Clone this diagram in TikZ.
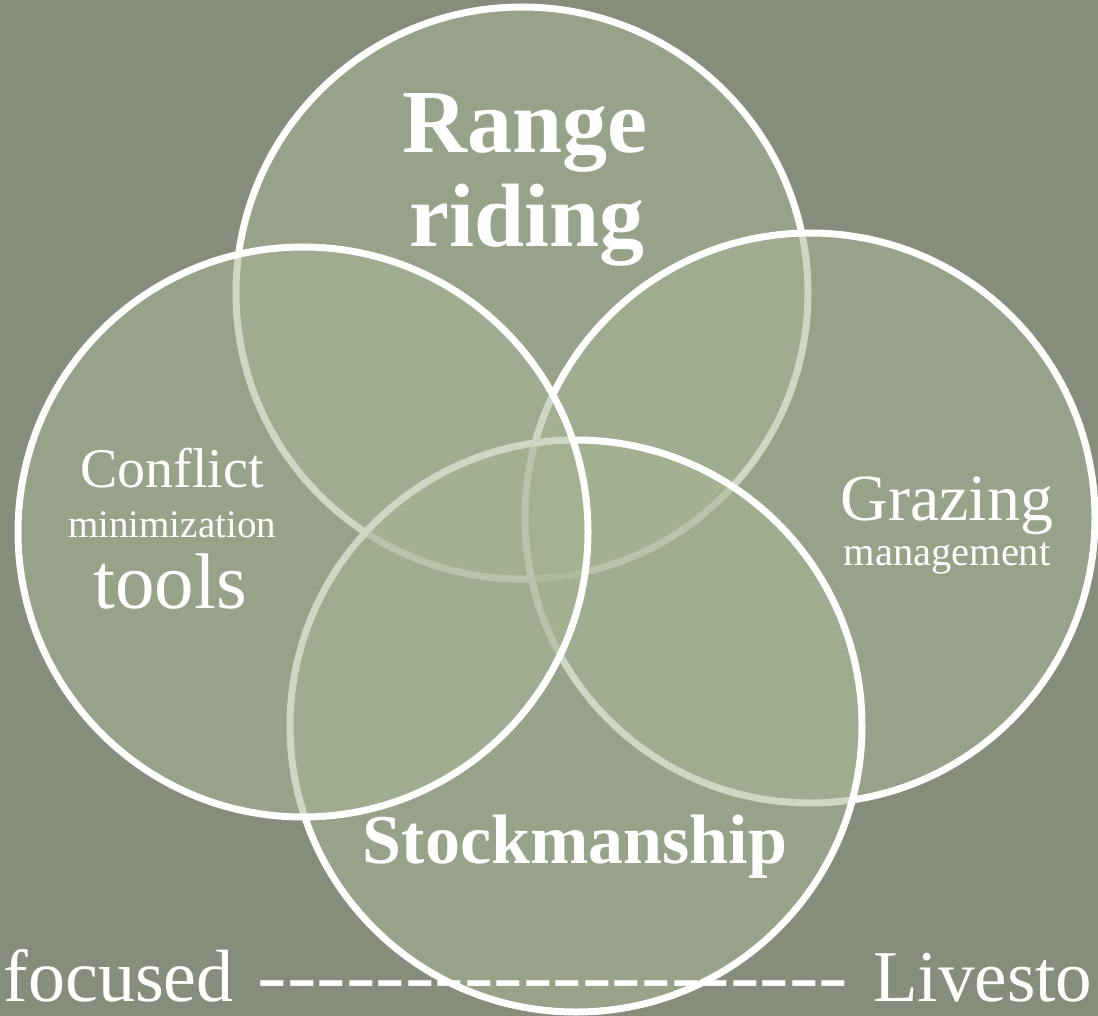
\documentclass[tikz,border=0pt]{standalone}
\usepackage{fontspec}
\setmainfont{Liberation Serif}
\usepackage{graphicx}
\definecolor{bgc}{RGB}{134,141,124}
\definecolor{circfill}{RGB}{167,181,148}
\newcommand{\hyph}{-\kern0pt}
\begin{document}
\begin{tikzpicture}[x=1pt,y=-1pt,
  venn/.style={circle, minimum size=#1, inner sep=0pt, outer sep=0pt,
    draw=white, line width=7pt, fill=circfill, fill opacity=0.55, draw opacity=1},
  lbl/.style={anchor=base, inner sep=0pt, text=white},
  fs/.style={font=\fontsize{#1}{#1}\selectfont},
  fsb/.style={font=\fontsize{#1}{#1}\selectfont\bfseries}]
\fill[bgc] (0,0) rectangle (1098,1016);
\useasboundingbox (0,0) rectangle (1098,1016);
% circles, in drawing order
\node[venn=572pt] (range) at (522,293) {};
\node[venn=570pt] (grazing) at (810,518) {};
\node[venn=572pt] (stock) at (576,726) {};
\node[venn=570pt] (conflict) at (303,532) {};
% labels
\node[lbl, fsb=90] (t-range) at (525,153) {Range};
\node[lbl, fsb=90] (t-riding) at (527,247) {riding};
\node[lbl, fs=56] (t-conflict) at (172,487) {Conflict};
\node[lbl, fs=39] (t-min) at (172,537) {minimization};
\node[lbl, fs=79] (t-tools) at (170,608) {tools};
\node[lbl, fs=66] (t-grazing) at (947,520) {Grazing};
\node[lbl, fs=40.5] (t-mgmt) at (947,565) {management};
\node[lbl, fsb=70] (t-stock) at (575,863) {Stockmanship};
% bottom line
\node[lbl, fs=74, anchor=base east] (t-focused) at (234,1001) {focused};
\node[lbl, fs=73, anchor=base west] (t-live) at (873,1001) {Livesto};
\node[lbl, fs=76] (t-dash) at (553,1001)
  {\resizebox{590pt}{\height}{\hyph\hyph\hyph\hyph\hyph\hyph\hyph\hyph\hyph\hyph\hyph\hyph\hyph\hyph\hyph\hyph\hyph\hyph\hyph\hyph}};
\end{tikzpicture}
\end{document}
